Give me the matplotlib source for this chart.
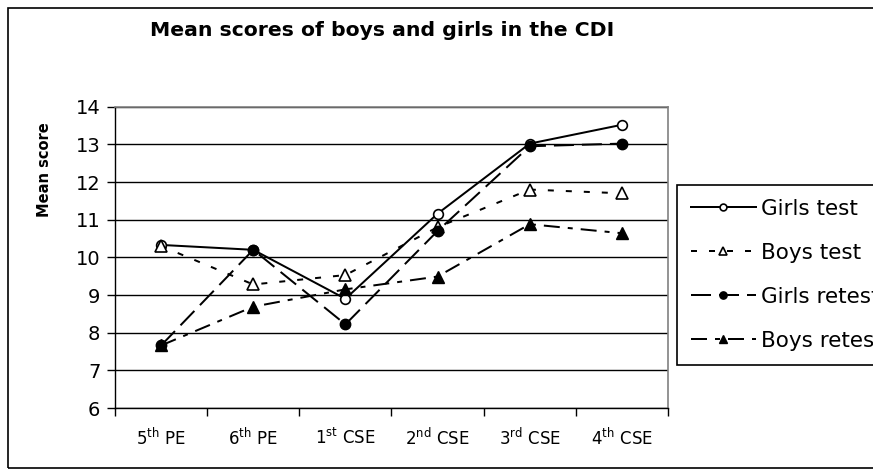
import matplotlib
matplotlib.use("Agg")
import matplotlib.pyplot as plt
from matplotlib.patches import Rectangle

categories = [r"5$^{\rm th}$ PE", r"6$^{\rm th}$ PE", r"1$^{\rm st}$ CSE",
              r"2$^{\rm nd}$ CSE", r"3$^{\rm rd}$ CSE", r"4$^{\rm th}$ CSE"]
girls_test = [10.33, 10.2, 8.9, 11.16, 13.02, 13.52]
boys_test = [10.3, 9.28, 9.53, 10.8, 11.8, 11.7]
girls_retest = [7.66, 10.2, 8.22, 10.7, 12.95, 13.02]
boys_retest = [7.66, 8.69, 9.15, 9.49, 10.88, 10.64]
series_names = ["Girls test", "Boys test", "Girls retest", "Boys retest"]
yticks = [6, 7, 8, 9, 10, 11, 12, 13, 14]

plt.rcParams["font.family"] = ["DejaVu Sans"]
plt.rcParams["mathtext.fontset"] = "dejavusans"

W, H = 873, 475
fig = plt.figure(figsize=(W / 100, H / 100), dpi=100)

# outer chart border
fig.patches.append(Rectangle((8 / W, 1 - 468 / H), 1.0, (468 - 8) / H,
                             transform=fig.transFigure, fill=False,
                             edgecolor="black", linewidth=1.2))

ax = fig.add_axes([115 / W, 1 - 408 / H, (668 - 115) / W, (408 - 106.7) / H])

x = list(range(len(categories)))
lw = 2 * 0.72
ax.plot(x, girls_test, color="black", lw=lw, linestyle="-",
        marker="o", markersize=7, markerfacecolor="white",
        markeredgecolor="black", markeredgewidth=1.2, label=series_names[0])
ax.plot(x, boys_test, color="black", lw=lw, linestyle=(0, (3, 6)),
        marker="^", markersize=8.5, markerfacecolor="white",
        markeredgecolor="black", markeredgewidth=1.2, label=series_names[1])
ax.plot(x, girls_retest, color="black", lw=lw, linestyle=(0, (10, 4)),
        marker="o", markersize=7.5, markerfacecolor="black",
        markeredgecolor="black", label=series_names[2])
ax.plot(x, boys_retest, color="black", lw=lw, linestyle=(0, (8, 4, 2.5, 4)),
        marker="^", markersize=8.5, markerfacecolor="black",
        markeredgecolor="black", label=series_names[3])

ax.set_xlim(-0.5, len(categories) - 0.5)
ax.set_ylim(6, 14)
ax.set_yticks(yticks)
ax.set_yticklabels([str(v) for v in yticks])
ax.yaxis.grid(True, color="black", linewidth=1.0)
ax.set_axisbelow(True)

ax.set_xticks(x)
ax.set_xticklabels(categories)
ax.set_xticks([i - 0.5 for i in range(len(categories) + 1)], minor=True)
ax.tick_params(axis="x", which="major", length=0, pad=14, labelsize=12)
ax.tick_params(axis="x", which="minor", length=6, width=1, direction="out")
ax.tick_params(axis="y", length=6, width=1, direction="out", pad=4.5,
               labelsize=14)

for s in ["left", "bottom"]:
    ax.spines[s].set_color("black")
    ax.spines[s].set_linewidth(1.0)
for s in ["top", "right"]:
    ax.spines[s].set_color("#808080")
    ax.spines[s].set_linewidth(1.2)

fig.text(382 / W, 1 - 30 / H, "Mean scores of boys and girls in the CDI",
         ha="center", va="center", fontsize=14.7, fontweight="bold")
fig.text(44.5 / W, 1 - 170 / H, "Mean score", ha="center", va="center",
         rotation=90, fontsize=10.5, fontweight="bold")

leg = fig.legend(loc="upper left", bbox_to_anchor=(677 / W, 1 - 185 / H),
                 bbox_transform=fig.transFigure, borderaxespad=0,
                 fontsize=15.5, handlelength=3.0, handletextpad=0.25,
                 labelspacing=1.11, borderpad=0.65, markerscale=0.7,
                 fancybox=False, framealpha=1, edgecolor="black")
leg.get_frame().set_linewidth(1.2)

fig.savefig("out.png", dpi=100)
